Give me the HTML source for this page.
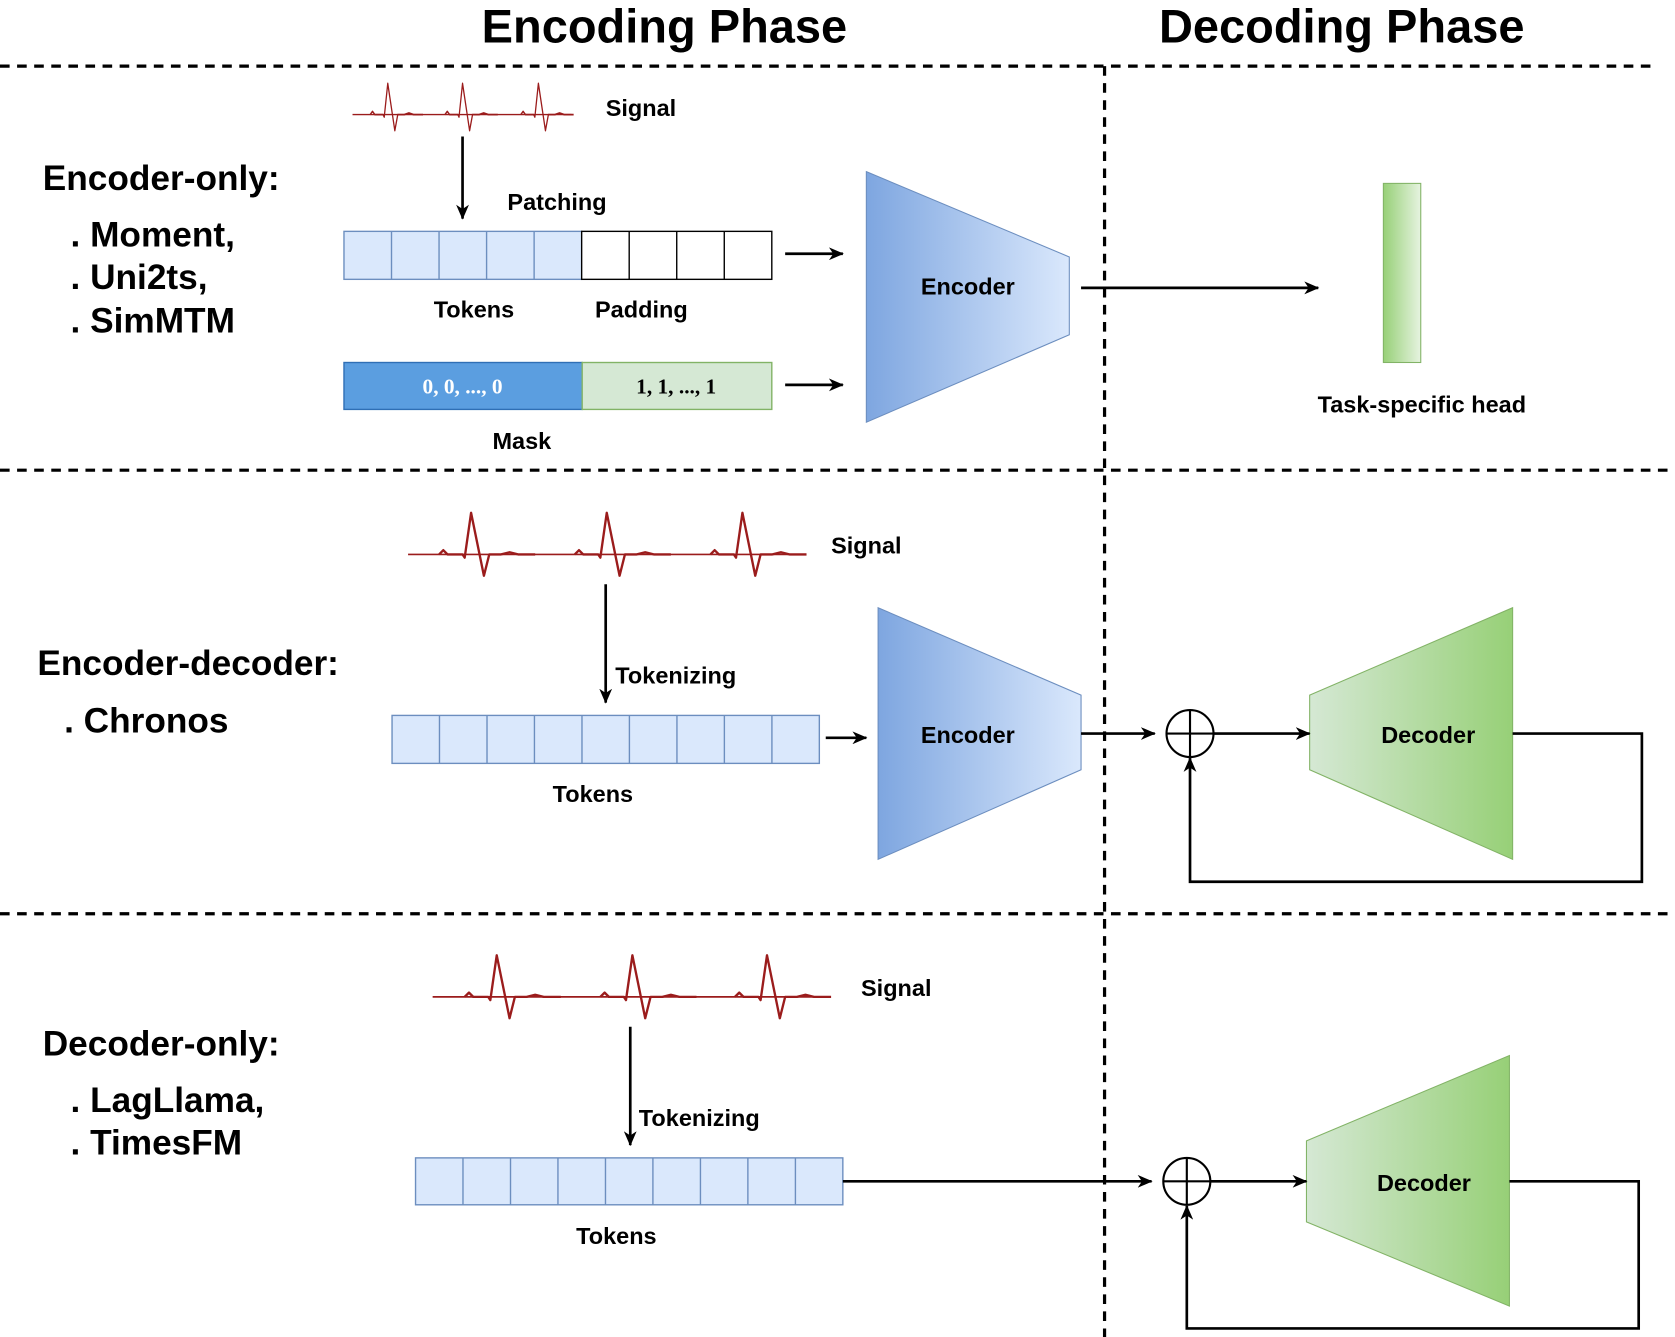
<!DOCTYPE html>
<html><head><meta charset="utf-8"><style>
html,body{margin:0;padding:0;background:#fff;}
svg{display:block;}
text{font-family:"Liberation Sans",Arial,sans-serif;font-weight:bold;fill:#000;}
</style></head><body>
<svg width="1675" height="1337" viewBox="0 0 1568 1254" preserveAspectRatio="none" xmlns="http://www.w3.org/2000/svg">
<defs>
<marker id="ar" markerWidth="14" markerHeight="12" refX="13" refY="6" orient="auto" markerUnits="userSpaceOnUse">
<path d="M0,0 L14,6 L0,12 L4,6 z" fill="#000"/></marker>
<linearGradient id="gb" x1="0" y1="0" x2="1" y2="0"><stop offset="0" stop-color="#7ea6e0"/><stop offset="1" stop-color="#dae8fc"/></linearGradient>
<linearGradient id="gg" x1="0" y1="0" x2="1" y2="0"><stop offset="0" stop-color="#d5e8d4"/><stop offset="1" stop-color="#97d077"/></linearGradient>
<linearGradient id="gh" x1="0" y1="0" x2="1" y2="0"><stop offset="0" stop-color="#97d077"/><stop offset="1" stop-color="#e6f3e0"/></linearGradient>
<path id="beat" d="M-30,0 L-26,-4 L-22,0 L-8,0 L-6,3 L0,-39 L12,20 L17,0 L28,0 L36,-2 L44,0 L60,0" fill="none" stroke="#9b1c1c" stroke-width="2.2" stroke-linejoin="round"/>
</defs>

<text x="622" y="40" font-size="44" text-anchor="middle">Encoding Phase</text>
<text x="1256" y="40" font-size="44" text-anchor="middle">Decoding Phase</text>

<g stroke="#000" stroke-width="3" stroke-dasharray="9,7" fill="none">
<line x1="0" y1="62" x2="1550" y2="62"/>
<line x1="0" y1="441" x2="1568" y2="441"/>
<line x1="0" y1="857" x2="1568" y2="857"/>
<line x1="1034" y1="62" x2="1034" y2="1254"/>
</g>

<g font-size="33">
<text x="40" y="178">Encoder-only:</text>
<text x="66" y="231">. Moment,</text>
<text x="66" y="271">. Uni2ts,</text>
<text x="66" y="312">. SimMTM</text>
<text x="35" y="633">Encoder-decoder:</text>
<text x="60" y="687">. Chronos</text>
<text x="40" y="990">Decoder-only:</text>
<text x="66" y="1043">. LagLlama,</text>
<text x="66" y="1083">. TimesFM</text>
</g>

<g>
<line x1="330" y1="107.5" x2="535" y2="107.5" stroke="#9b1c1c" stroke-width="1.3"/>
<use href="#beat" transform="translate(363,107.5) scale(0.55,0.75)"/>
<use href="#beat" transform="translate(433,107.5) scale(0.55,0.75)"/>
<use href="#beat" transform="translate(504,107.5) scale(0.55,0.75)"/>
<line x1="382" y1="520" x2="750" y2="520" stroke="#9b1c1c" stroke-width="1.6"/>
<use href="#beat" transform="translate(441,520)"/>
<use href="#beat" transform="translate(568,520)"/>
<use href="#beat" transform="translate(695,520)"/>
<line x1="405" y1="935" x2="772" y2="935" stroke="#9b1c1c" stroke-width="1.6"/>
<use href="#beat" transform="translate(465,935)"/>
<use href="#beat" transform="translate(592,935)"/>
<use href="#beat" transform="translate(718,935)"/>
</g>

<g stroke-width="1.3">
<rect x="322" y="217" width="222.5" height="45" fill="#dae8fc" stroke="#6c8ebf"/>
<rect x="544.5" y="217" width="178" height="45" fill="#fff" stroke="#000"/>
<g stroke="#6c8ebf"><line x1="366.5" y1="217" x2="366.5" y2="262"/><line x1="411" y1="217" x2="411" y2="262"/><line x1="455.5" y1="217" x2="455.5" y2="262"/><line x1="500" y1="217" x2="500" y2="262"/></g>
<g stroke="#000"><line x1="589" y1="217" x2="589" y2="262"/><line x1="633.5" y1="217" x2="633.5" y2="262"/><line x1="678" y1="217" x2="678" y2="262"/></g>
<rect x="322" y="340" width="223" height="44" fill="#5b9ee0" stroke="#2f6fb5"/>
<rect x="545" y="340" width="177.5" height="44" fill="#d5e8d4" stroke="#82b366"/>
</g>
<text x="433" y="369" font-size="20" text-anchor="middle" style="font-family:'Liberation Serif',serif;fill:#fff">0, 0, ..., 0</text>
<text x="633" y="369" font-size="20" text-anchor="middle" style="font-family:'Liberation Serif',serif;">1, 1, ..., 1</text>

<g fill="#dae8fc" stroke="#6c8ebf" stroke-width="1.3">
<rect x="367" y="671" width="400" height="45"/>
<rect x="389" y="1086" width="400" height="44"/>
</g>
<g stroke="#6c8ebf" stroke-width="1.3">
<line x1="411.4" y1="671" x2="411.4" y2="716"/><line x1="455.9" y1="671" x2="455.9" y2="716"/><line x1="500.3" y1="671" x2="500.3" y2="716"/><line x1="544.8" y1="671" x2="544.8" y2="716"/><line x1="589.2" y1="671" x2="589.2" y2="716"/><line x1="633.7" y1="671" x2="633.7" y2="716"/><line x1="678.1" y1="671" x2="678.1" y2="716"/><line x1="722.6" y1="671" x2="722.6" y2="716"/>
<line x1="433.4" y1="1086" x2="433.4" y2="1130"/><line x1="477.9" y1="1086" x2="477.9" y2="1130"/><line x1="522.3" y1="1086" x2="522.3" y2="1130"/><line x1="566.8" y1="1086" x2="566.8" y2="1130"/><line x1="611.2" y1="1086" x2="611.2" y2="1130"/><line x1="655.7" y1="1086" x2="655.7" y2="1130"/><line x1="700.1" y1="1086" x2="700.1" y2="1130"/><line x1="744.6" y1="1086" x2="744.6" y2="1130"/>
</g>

<polygon points="811,161 1001,241 1001,314 811,396" fill="url(#gb)" stroke="#6c8ebf" stroke-width="1"/>
<polygon points="822,570 1012,652 1012,722 822,806" fill="url(#gb)" stroke="#6c8ebf" stroke-width="1"/>
<polygon points="1226,652 1416,570 1416,806 1226,722" fill="url(#gg)" stroke="#82b366" stroke-width="1"/>
<polygon points="1223,1070 1413,990 1413,1225 1223,1146" fill="url(#gg)" stroke="#82b366" stroke-width="1"/>
<rect x="1295" y="172" width="35" height="168" fill="url(#gh)" stroke="#82b366" stroke-width="1"/>

<g font-size="22">
<text x="567" y="109">Signal</text>
<text x="778" y="519">Signal</text>
<text x="806" y="934">Signal</text>
<text x="475" y="197">Patching</text>
<text x="406" y="298">Tokens</text>
<text x="557" y="298">Padding</text>
<text x="461" y="421">Mask</text>
<text x="576" y="641">Tokenizing</text>
<text x="598" y="1056">Tokenizing</text>
<text x="555" y="752" text-anchor="middle">Tokens</text>
<text x="577" y="1167" text-anchor="middle">Tokens</text>
<text x="906" y="276" text-anchor="middle">Encoder</text>
<text x="906" y="697" text-anchor="middle">Encoder</text>
<text x="1337" y="697" text-anchor="middle">Decoder</text>
<text x="1333" y="1117" text-anchor="middle">Decoder</text>
<text x="1331" y="387" text-anchor="middle">Task-specific head</text>
</g>

<g stroke="#000" stroke-width="2.5" fill="none" marker-end="url(#ar)">
<line x1="433" y1="128" x2="433" y2="205"/>
<line x1="735" y1="238" x2="789" y2="238"/>
<line x1="735" y1="361" x2="789" y2="361"/>
<line x1="1012" y1="270" x2="1234" y2="270"/>
<line x1="567" y1="548" x2="567" y2="659"/>
<line x1="773" y1="692" x2="811" y2="692"/>
<line x1="1012" y1="688" x2="1081" y2="688"/>
<line x1="1136" y1="688" x2="1226" y2="688"/>
<polyline points="1416,688 1537,688 1537,827 1114,827 1114,711"/>
<line x1="590" y1="963" x2="590" y2="1074"/>
<line x1="789" y1="1108" x2="1078" y2="1108"/>
<line x1="1133" y1="1108" x2="1223" y2="1108"/>
<polyline points="1413,1108 1534,1108 1534,1246 1111,1246 1111,1131"/>
</g>

<g stroke="#000" stroke-width="2" fill="#fff">
<circle cx="1114" cy="688" r="22"/>
<line x1="1092" y1="688" x2="1136" y2="688"/><line x1="1114" y1="666" x2="1114" y2="710"/>
<circle cx="1111" cy="1108" r="22"/>
<line x1="1089" y1="1108" x2="1133" y2="1108"/><line x1="1111" y1="1086" x2="1111" y2="1130"/>
</g>
</svg>
</body></html>
